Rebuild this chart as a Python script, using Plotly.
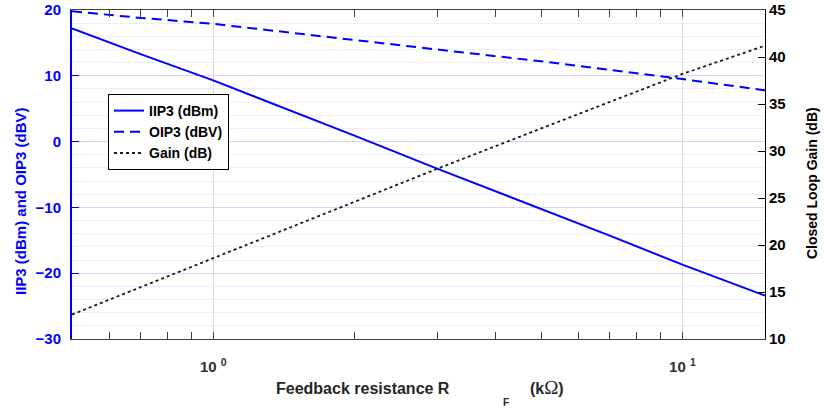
import plotly.graph_objects as go

# Feedback resistance sweep (kΩ)
rf_kohm = [0.5, 0.7, 1, 1.5, 2, 3, 5, 7, 10, 15]
# Input-referred third-order intercept (dBm)
iip3_dbm = [17.2, 13.3, 9.3, 4.4, 0.9, -4.1, -10.2, -14.3, -18.7, -23.4]
# Output-referred third-order intercept (dBV)
oip3_dbv = [19.8, 18.8, 17.9, 16.5, 15.5, 14.0, 12.2, 10.9, 9.5, 7.8]
# Closed loop gain (dB)
gain_db = [12.6, 15.5, 18.6, 22.1, 24.6, 28.1, 32.4, 35.2, 38.2, 41.2]

x_major = [1, 10]
x_major_text = ["10 <sup>0</sup>", "10 <sup>1</sup>"]
x_minor = [0.6, 0.7, 0.8, 0.9, 2, 3, 4, 5, 6, 7, 8, 9, 20]

FONT = "Liberation Sans, Arial, sans-serif"
BLUE = "#0000ff"

W, H = 824, 410
ML, MR, MT, MB = 72, 59, 10, 71

fig = go.Figure()
fig.add_trace(go.Scatter(x=rf_kohm, y=iip3_dbm, mode="lines", name="IIP3 (dBm)",
                         line=dict(color=BLUE, width=2)))
fig.add_trace(go.Scatter(x=rf_kohm, y=oip3_dbv, mode="lines", name="OIP3 (dBV)",
                         line=dict(color=BLUE, width=2, dash="10px,6px")))
fig.add_trace(go.Scatter(x=rf_kohm, y=gain_db, mode="lines", name="Gain (dB)",
                         yaxis="y2", line=dict(color="#1a1a1a", width=1.8, dash="dot")))

fig.update_layout(
    width=W, height=H,
    margin=dict(l=ML, r=MR, t=MT, b=MB, autoexpand=False),
    paper_bgcolor="white", plot_bgcolor="white",
    font=dict(family=FONT, size=14, color="#000000"),
    showlegend=True,
    legend=dict(x=(108 - ML) / (W - ML - MR), y=(H - MB - 94) / (H - MT - MB),
                xanchor="left", yanchor="top",
                bgcolor="white", bordercolor="#000000", borderwidth=1,
                font=dict(family=FONT, size=14, weight="bold", color="#000000"),
                itemwidth=30, tracegroupgap=0),
    xaxis=dict(
        type="log", range=[0.69897 - 1, 1.17609], automargin=False,
        tickmode="array", tickvals=x_major, ticktext=x_major_text,
        ticks="inside", ticklen=7, tickcolor="#404040",
        tickfont=dict(family=FONT, size=15, weight="bold", color="#303030"),
        ticklabelstandoff=14,
        showline=True, linecolor="#404040", linewidth=1, mirror="allticks",
        showgrid=True, gridcolor="#dcdcdc", gridwidth=1,
        zeroline=False,
        minor=dict(tickmode="array", tickvals=x_minor, ticks="inside",
                   ticklen=4, tickcolor="#404040", showgrid=False),
    ),
    yaxis=dict(
        range=[-30, 20], dtick=10, tick0=0, automargin=False,
        ticks="inside", ticklen=7, tickcolor=BLUE,
        tickfont=dict(family=FONT, size=15, weight="bold", color=BLUE),
        ticklabelstandoff=6, ticklabeloverflow="allow",
        showline=True, linecolor=BLUE, linewidth=2,
        showgrid=True, gridcolor="#d4d4f8", gridwidth=1,
        zeroline=False,
        minor=dict(dtick=2, tick0=0, ticks="", showgrid=True,
                   gridcolor="#ececfc", gridwidth=1),
    ),
    yaxis2=dict(
        overlaying="y", side="right", range=[10, 45], dtick=5, tick0=10,
        automargin=False,
        ticks="inside", ticklen=7, tickcolor="#000000",
        tickfont=dict(family=FONT, size=15, weight="bold", color="#000000"),
        ticklabeloverflow="allow",
        showline=True, linecolor="#000000", linewidth=1,
        showgrid=False, zeroline=False,
    ),
)

# Axis titles
fig.add_annotation(x=20, y=201, text="IIP3 (dBm) and OIP3 (dBV)",
                   showarrow=False, textangle=-90,
                   font=dict(family=FONT, size=15, weight="bold", color=BLUE))
fig.add_annotation(x=812, y=183, text="Closed Loop Gain (dB)", showarrow=False, textangle=-90,
                   font=dict(family=FONT, size=14, weight="bold", color="#000000"))
fig.add_annotation(x=363, y=388, text="Feedback resistance R", showarrow=False,
                   font=dict(family=FONT, size=16, weight="bold", color="#262626"))
fig.add_annotation(x=506, y=402, text="F", showarrow=False,
                   font=dict(family=FONT, size=10, weight="bold", color="#262626"))
fig.add_annotation(x=547, y=387, text="(k<span style='font-family:Liberation Serif,Times New Roman,serif;font-weight:normal;font-size:19px'>Ω</span>)",
                   showarrow=False,
                   font=dict(family=FONT, size=16, weight="bold", color="#262626"))

# Place title annotations in pixel coordinates
for ann in fig.layout.annotations:
    px, py = ann.x, ann.y
    ann.xref = "paper"
    ann.yref = "paper"
    ann.x = (px - ML) / (W - ML - MR)
    ann.y = (H - MB - py) / (H - MT - MB)
    ann.xanchor = "center"
    ann.yanchor = "middle"

fig.write_html("out.html")
